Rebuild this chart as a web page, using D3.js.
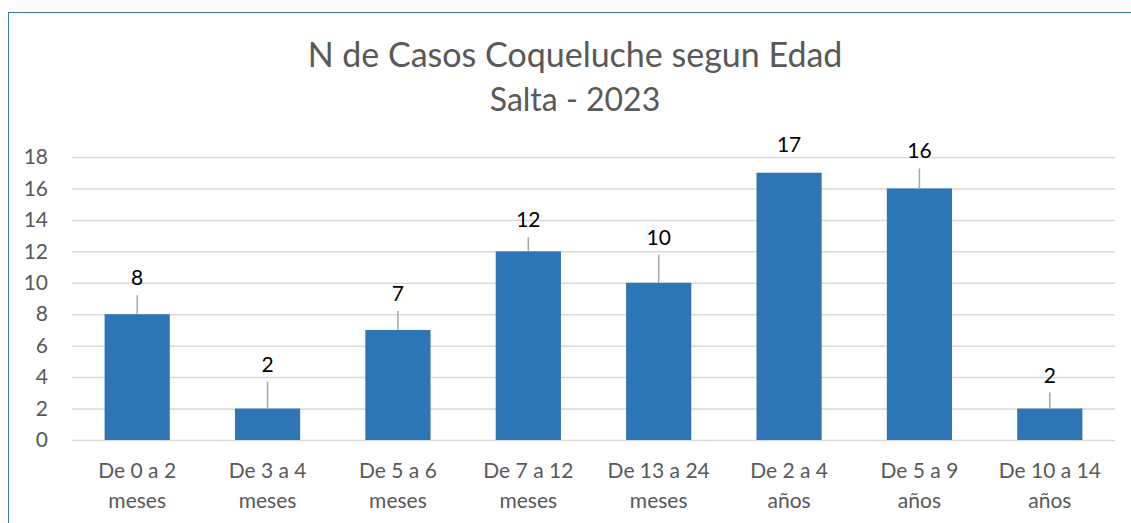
<!DOCTYPE html>
<html>
<head>
<meta charset="utf-8">
<script src="https://cdn.jsdelivr.net/npm/d3@7"></script>
<style>
  body { margin: 0; background: #fff; }
  text { font-family: Lato, "Noto Sans", sans-serif; }
</style>
</head>
<body>
<div class="chart"></div>
<script>
(function () {
  'use strict';

  // data
  var categories = [
    ['De 0 a 2', 'meses'],
    ['De 3 a 4', 'meses'],
    ['De 5 a 6', 'meses'],
    ['De 7 a 12', 'meses'],
    ['De 13 a 24', 'meses'],
    ['De 2 a 4', 'años'],
    ['De 5 a 9', 'años'],
    ['De 10 a 14', 'años']
  ];
  var casos = [8, 2, 7, 12, 10, 17, 16, 2];
  var yTicks = [0, 2, 4, 6, 8, 10, 12, 14, 16, 18];
  var titleLines = ['N de Casos Coqueluche segun Edad', 'Salta - 2023'];

  // how far above the bar each data label was dragged (px)
  var labelGap = [29, 37, 29, 24, 38, 21, 30, 26];

  var W = 1131, H = 523;
  var plot = { left: 72, right: 1115, top: 157, bottom: 440 };

  var svg = d3.select('.chart')
      .append('svg')
      .attr('width', W)
      .attr('height', H);

  // chart border (only top and left edges are in view)
  svg.append('rect')
     .attr('x', 8.5)
     .attr('y', 12.5)
     .attr('width', 1150)
     .attr('height', 540)
     .attr('fill', 'none')
     .attr('stroke', '#3B78B4')
     .attr('stroke-width', 1);

  var x = d3.scaleBand()
      .domain(d3.range(categories.length))
      .range([plot.left, plot.right])
      .paddingInner(0.5)
      .paddingOuter(0.25);

  var y = d3.scaleLinear()
      .domain([0, 18])
      .range([plot.bottom, plot.top]);

  var pts = casos.map(function(v, i) { return { v: v, i: i, gap: labelGap[i] }; });
  var cx = function(d) { return x(d.i) + x.bandwidth() / 2; };

  // title
  svg.append('text')
     .attr('x', 575)
     .attr('y', 67)
     .attr('text-anchor', 'middle')
     .attr('font-size', 34)
     .attr('fill', '#595959')
     .selectAll('tspan')
     .data(titleLines)
     .enter()
     .append('tspan')
     .attr('x', 575)
     .attr('dy', function(d, i) { return i === 0 ? 0 : 44; })
     .attr('font-size', function(d, i) { return i === 0 ? 34 : 32; })
     .text(function(d) { return d; });

  // gridlines + y labels
  var yAxis = svg.append('g')
     .attr('class', 'y axis')
     .attr('transform', 'translate(' + plot.left + ',0)')
     .call(d3.axisLeft(y).tickValues(yTicks).tickSize(-(plot.right - plot.left)).tickPadding(24));

  yAxis.select('.domain').remove();
  yAxis.selectAll('.tick line')
     .attr('stroke', '#D9D9D9')
     .attr('stroke-width', 1.5);
  yAxis.selectAll('.tick text')
     .attr('font-size', 21)
     .attr('font-family', 'Lato, "Noto Sans", sans-serif')
     .attr('fill', '#595959');

  // bars
  svg.selectAll('.bar')
     .data(pts)
     .enter()
     .append('rect')
     .attr('class', 'bar')
     .attr('x', function(d) { return x(d.i); })
     .attr('width', x.bandwidth())
     .attr('y', function(d) { return y(d.v); })
     .attr('height', function(d) { return y(0) - y(d.v); })
     .attr('fill', '#2E75B6');

  // leader lines (Excel hides them when the label sits close to the bar)
  svg.selectAll('.leader')
     .data(pts.filter(function(d) { return d.gap > 22; }))
     .enter()
     .append('line')
     .attr('class', 'leader')
     .attr('x1', cx)
     .attr('x2', cx)
     .attr('y1', function(d) { return y(d.v) - d.gap + 10; })
     .attr('y2', function(d) { return y(d.v); })
     .attr('stroke', '#A6A6A6')
     .attr('stroke-width', 1.5);

  // data labels
  svg.selectAll('.label')
     .data(pts)
     .enter()
     .append('text')
     .attr('class', 'label')
     .attr('x', cx)
     .attr('y', function(d) { return y(d.v) - d.gap; })
     .attr('text-anchor', 'middle')
     .attr('font-size', 21)
     .attr('fill', '#000')
     .text(function(d) { return d.v; });

  // category labels
  var cat = svg.selectAll('.cat')
     .data(categories)
     .enter()
     .append('text')
     .attr('class', 'cat')
     .attr('text-anchor', 'middle')
     .attr('font-size', 21)
     .attr('fill', '#595959');

  cat.selectAll('tspan')
     .data(function(d, i) { return d.map(function(t) { return { t: t, i: i }; }); })
     .enter()
     .append('tspan')
     .attr('x', function(d) { return cx(d); })
     .attr('y', function(d, j) { return j === 0 ? 478 : 508; })
     .text(function(d) { return d.t; });
}());
</script>
</body>
</html>
